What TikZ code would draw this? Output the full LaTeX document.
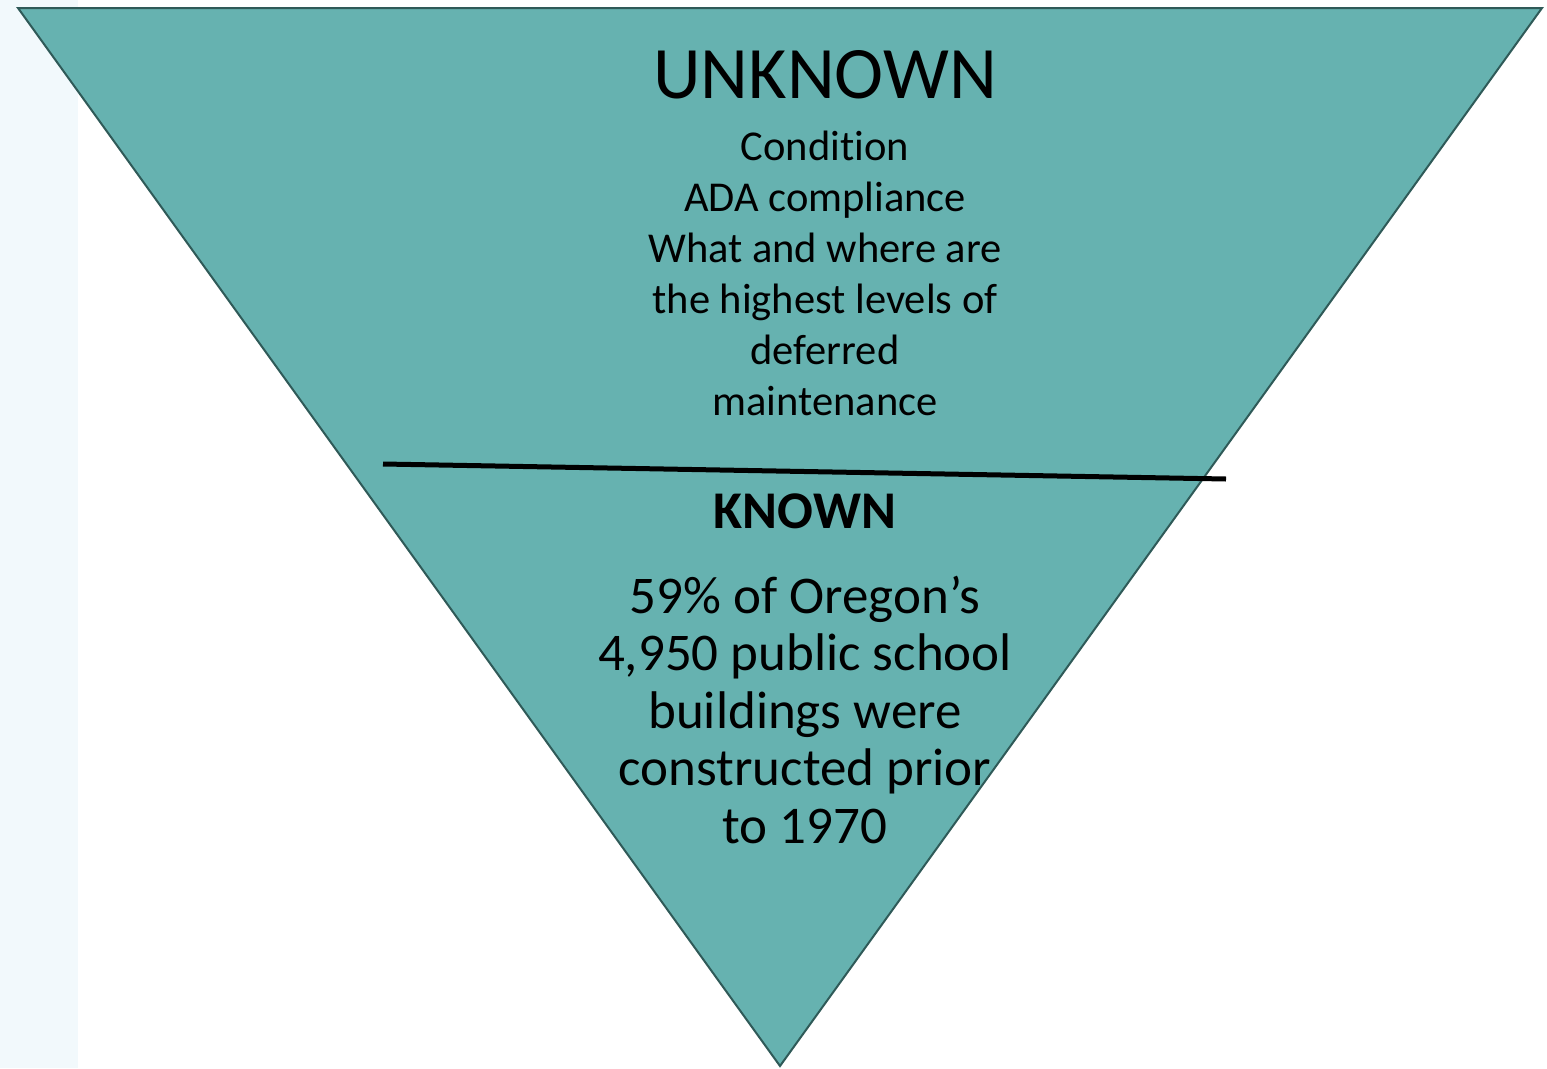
\documentclass[tikz,border=0pt]{standalone}
\usepackage{fontspec}
\setmainfont[Ligatures={NoCommon}]{Carlito}
\usetikzlibrary{positioning}
\definecolor{stripColor}{HTML}{F2F9FC}
\definecolor{fillColor}{HTML}{66B2B0}
\definecolor{penColor}{HTML}{2F5A58}
\tikzset{
  funnel/.style={fill=fillColor, draw=penColor, line width=2pt, line join=miter},
  divider/.style={draw=black, line width=5pt},
  label/.style={align=center, inner sep=0pt, text=black}
}
\begin{document}
\begin{tikzpicture}[x=1pt, y=-1pt]
				\useasboundingbox (0,0) rectangle (1547,1068);
				\fill[stripColor] (0,0) rectangle (78,1068);
				% inverted triangle
				\coordinate (tl) at (18,8);
				\coordinate (tr) at (1542,8);
				\coordinate (tip) at (780,1066);
				\draw[funnel] (tl) -- (tr) -- (tip) -- cycle;
				% split line
				\coordinate (splitL) at (383,464);
				\coordinate (splitR) at (1226,479);
				\draw[divider] (splitL) -- (splitR);
				% upper part
				\node [label, font=\fontsize{74}{74}\selectfont] (unknown) at (825,75) {UNKNOWN};
				\node [label, font=\fontsize{42.5}{51}\selectfont, below=31pt of unknown] (unknownList) {Condition\\ADA compliance\\What and where are\\the highest levels of\\deferred\\maintenance};
				% lower part
				\node [label, font=\bfseries\fontsize{53}{53}\selectfont] (known) at (805,511) {KNOWN};
				\node [label, font=\fontsize{53}{57.5}\selectfont, below=47pt of known] (knownText) {59\% of Oregon’s\\4,950 public school\\buildings were\\constructed prior\\to 1970};
\end{tikzpicture}
\end{document}
